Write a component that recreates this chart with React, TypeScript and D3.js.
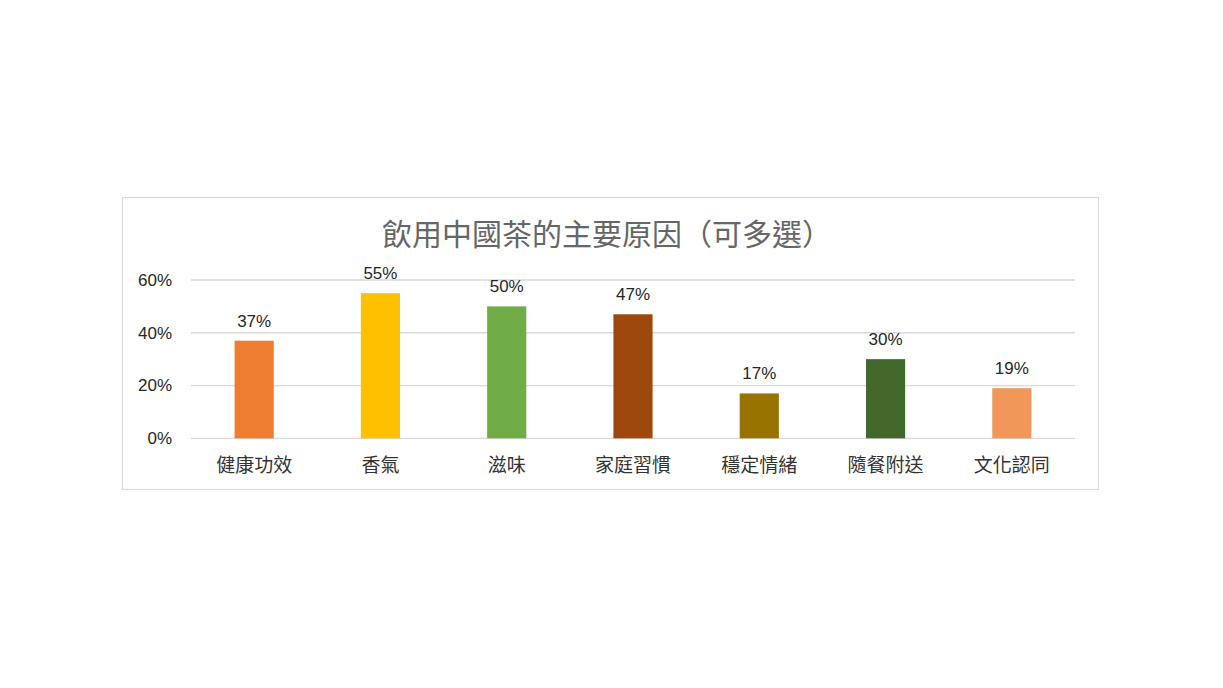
import { useEffect, useRef } from "react";
import * as d3 from "d3";

const TITLE = "飲用中國茶的主要原因（可多選）";
const categories = ["健康功效", "香氣", "滋味", "家庭習慣", "穩定情緒", "隨餐附送", "文化認同"];
const values = [37, 55, 50, 47, 17, 30, 19];
const colors = ["#ED7D31", "#FFC000", "#70AD47", "#9E480E", "#997300", "#43682B", "#F1975A"];
const yTicks = [0, 20, 40, 60];

const W = 1223;
const H = 688;
const LATIN = "'Liberation Sans', Arial, Helvetica, sans-serif";
const CJK = "'Noto Sans CJK TC', 'Noto Sans CJK SC', sans-serif";

export default function App() {
  const svgRef = useRef<SVGSVGElement>(null);

  useEffect(() => {
    if (!svgRef.current) return;
    const svg = d3.select(svgRef.current);
    svg.selectAll("*").remove();

    // chart frame
    svg.append("rect")
      .attr("x", 122.5).attr("y", 197.5)
      .attr("width", 976).attr("height", 292)
      .attr("fill", "#fff").attr("stroke", "#d9d9d9").attr("stroke-width", 1.2);

    svg.append("text")
      .attr("x", 607).attr("y", 234)
      .attr("dy", "0.35em")
      .attr("text-anchor", "middle")
      .attr("font-family", CJK).attr("font-size", "30px")
      .attr("fill", "#666")
      .text(TITLE);

    const plot = { left: 191, right: 1075, top: 280, bottom: 438.3 };

    const x = d3.scaleBand<string>()
      .domain(categories)
      .range([plot.left, plot.right])
      .paddingInner(0.69)
      .paddingOuter(0.345);

    const y = d3.scaleLinear().domain([0, 60]).range([plot.bottom, plot.top]);

    const g = svg.append("g");

    g.selectAll(".grid")
      .data(yTicks)
      .enter()
      .append("line")
      .attr("x1", plot.left).attr("x2", plot.right)
      .attr("y1", (d) => y(d)).attr("y2", (d) => y(d))
      .attr("stroke", "#d9d9d9").attr("stroke-width", 1.3);

    g.selectAll(".ytick")
      .data(yTicks)
      .enter()
      .append("text")
      .attr("x", 172).attr("y", (d) => y(d))
      .attr("dy", "0.35em")
      .attr("text-anchor", "end")
      .attr("font-family", LATIN).attr("font-size", "17px")
      .attr("fill", "#262626")
      .text((d) => `${d}%`);

    g.selectAll(".bar")
      .data(values)
      .enter()
      .append("rect")
      .attr("x", (_, i) => x(categories[i]) ?? 0)
      .attr("y", (d) => y(d))
      .attr("width", x.bandwidth())
      .attr("height", (d) => plot.bottom - y(d))
      .attr("fill", (_, i) => colors[i]);

    g.selectAll(".val")
      .data(values)
      .enter()
      .append("text")
      .attr("x", (_, i) => (x(categories[i]) ?? 0) + x.bandwidth() / 2)
      .attr("y", (d) => y(d) - 14)
      .attr("text-anchor", "middle")
      .attr("font-family", LATIN).attr("font-size", "17px")
      .attr("fill", "#262626")
      .text((d) => `${d}%`);

    g.selectAll(".cat")
      .data(categories)
      .enter()
      .append("text")
      .attr("x", (d) => (x(d) ?? 0) + x.bandwidth() / 2)
      .attr("y", 465)
      .attr("dy", "0.35em")
      .attr("text-anchor", "middle")
      .attr("font-family", CJK).attr("font-size", "19px")
      .attr("fill", "#333")
      .text((d) => d);
  }, []);

  return (
    <svg
      ref={svgRef}
      width={W}
      height={H}
      style={{ position: "absolute", left: 0, top: 0, background: "#fff" }}
    />
  );
}
